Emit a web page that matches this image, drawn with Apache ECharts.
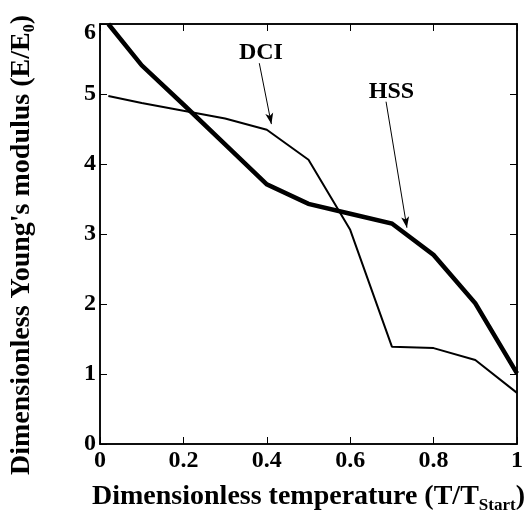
<!DOCTYPE html>
<html>
<head>
<meta charset="utf-8">
<script src="https://cdn.jsdelivr.net/npm/echarts@6/dist/echarts.min.js"></script>
<style>
html,body{margin:0;padding:0;background:#fff;}
#chart{width:529px;height:524px;}
</style>
</head>
<body>
<div id="chart"></div>
<script>
// Data
const temperature = [0.02, 0.1, 0.2, 0.3, 0.4, 0.5, 0.6, 0.7, 0.8, 0.9, 1.0];
const hssValues   = [6.0, 5.41, 4.85, 4.28, 3.71, 3.43, 3.29, 3.15, 2.70, 2.01, 1.01];
const dciValues   = [4.97, 4.87, 4.76, 4.65, 4.49, 4.06, 3.06, 1.39, 1.37, 1.20, 0.73];
const xTicks = [0, 0.2, 0.4, 0.6, 0.8, 1];
const yTicks = [0, 1, 2, 3, 4, 5, 6];
// annotation anchors (data space)
const dciLabel = [0.386, 5.59];
const dciArrow = [[0.382, 5.44], [0.411, 4.57]];
const hssLabel = [0.699, 5.03];
const hssArrow = [[0.686, 4.89], [0.736, 3.09]];

const FONT = '"Liberation Serif", "Times New Roman", serif';
const chart = echarts.init(document.getElementById('chart'), null, {renderer: 'canvas'});

function pairs(xs, ys){ return xs.map((x,i)=>[x, ys[i]]); }

function tickStyle(){ return {show: true, inside: true, length: 7, lineStyle: {color: '#000', width: 1}}; }
function axisLineStyle(){ return {show: true, onZero: false, lineStyle: {color: '#000', width: 1.5}}; }

chart.setOption({
  animation: false,
  backgroundColor: '#fff',
  grid: {left: 89, right: 12, top: 24, bottom: 80, containLabel: false,
         show: true, borderColor: '#000', borderWidth: 1.5, backgroundColor: 'transparent'},
  xAxis: [{
    type: 'value', min: 0, max: 1, interval: 0.2, position: 'bottom',
    axisLine: axisLineStyle(),
    axisTick: tickStyle(),
    splitLine: {show: false},
    axisLabel: {
      fontFamily: FONT, fontWeight: 'bold', fontSize: 24, color: '#000', margin: 5,
      formatter: v => { const t = xTicks.find(k => Math.abs(k - v) < 1e-9); return t === undefined ? '' : String(t); }
    },
    name: '{m|Dimensionless temperature (T/T}{s|Start}{m|)}',
    nameLocation: 'middle', nameGap: 35,
    nameTextStyle: {
      rich: {
        m: {fontFamily: FONT, fontWeight: 'bold', fontSize: 28, color: '#000'},
        s: {fontFamily: FONT, fontWeight: 'bold', fontSize: 17, color: '#000', padding: [18, 0, 0, 0]}
      }
    }
  }, {
    type: 'value', min: 0, max: 1, interval: 0.2, position: 'top',
    axisLine: axisLineStyle(),
    axisTick: tickStyle(), axisLabel: {show: false}, splitLine: {show: false}
  }],
  yAxis: [{
    type: 'value', min: 0, max: 6, interval: 1, position: 'left',
    axisLine: axisLineStyle(),
    axisTick: tickStyle(),
    splitLine: {show: false},
    axisLabel: {
      fontFamily: FONT, fontWeight: 'bold', fontSize: 24, color: '#000', margin: 4,
      formatter: v => { const t = yTicks.find(k => k === v); return t === 6 ? '{t|6}' : (t === undefined ? '' : String(t)); },
      rich: {t: {fontFamily: FONT, fontWeight: 'bold', fontSize: 24, color: '#000', padding: [18, 0, 0, 0]}}
    },
    name: '{m|Dimensionless Young\'s modulus (E/E}{s|0}{e|)}',
    nameLocation: 'middle', nameGap: 62, nameRotate: 90,
    nameTextStyle: {
      rich: {
        m: {fontFamily: FONT, fontWeight: 'bold', fontSize: 28, color: '#000'},
        e: {fontFamily: FONT, fontWeight: 'bold', fontSize: 28, color: '#000', padding: [0, 22, 0, 0]},
        s: {fontFamily: FONT, fontWeight: 'bold', fontSize: 16, color: '#000', padding: [16, 0, 0, 0]}
      }
    }
  }, {
    type: 'value', min: 0, max: 6, interval: 1, position: 'right',
    axisLine: axisLineStyle(),
    axisTick: tickStyle(), axisLabel: {show: false}, splitLine: {show: false}
  }],
  series: [{
    name: 'HSS', type: 'line', data: pairs(temperature, hssValues),
    symbol: 'none', clip: true,
    lineStyle: {color: '#000', width: 4.5, join: 'miter'},
    markPoint: {
      symbol: 'circle', symbolSize: 0,
      label: {show: true, position: 'inside', formatter: 'HSS', fontFamily: FONT, fontWeight: 'bold', fontSize: 24, color: '#000'},
      data: [{coord: hssLabel}]
    },
    markLine: {
      silent: true, symbol: ['none', 'arrow'], symbolSize: [6, 11],
      lineStyle: {color: '#000', width: 1, type: 'solid'},
      label: {show: false},
      data: [[{coord: hssArrow[0]}, {coord: hssArrow[1]}]]
    }
  }, {
    name: 'DCI', type: 'line', data: pairs(temperature, dciValues),
    symbol: 'none', clip: true,
    lineStyle: {color: '#000', width: 2},
    markPoint: {
      symbol: 'circle', symbolSize: 0,
      label: {show: true, position: 'inside', formatter: 'DCI', fontFamily: FONT, fontWeight: 'bold', fontSize: 24, color: '#000'},
      data: [{coord: dciLabel}]
    },
    markLine: {
      silent: true, symbol: ['none', 'arrow'], symbolSize: [6, 11],
      lineStyle: {color: '#000', width: 1, type: 'solid'},
      label: {show: false},
      data: [[{coord: dciArrow[0]}, {coord: dciArrow[1]}]]
    }
  }, {
    name: 'frame', type: 'line', data: [], xAxisIndex: 1, yAxisIndex: 1,
    symbol: 'none', silent: true
  }]
});
</script>
</body>
</html>
